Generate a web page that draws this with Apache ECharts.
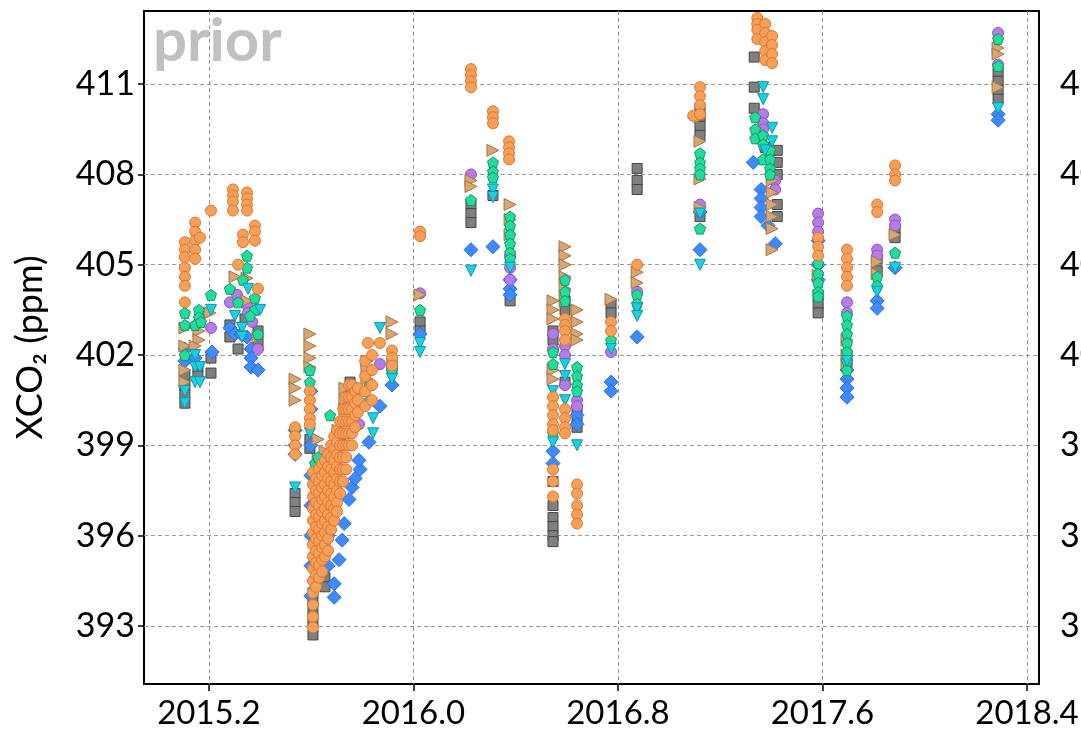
<!DOCTYPE html>
<html>
<head>
<meta charset="utf-8">
<script src="https://cdn.jsdelivr.net/npm/echarts@6/dist/echarts.min.js"></script>
<style>
  html, body { margin: 0; padding: 0; background: #fff; }
  #chart { width: 1081px; height: 735px; }
</style>
</head>
<body>
<div id="chart"></div>
<script>
// columns of points: [decimal year, [XCO2 values]]
const grayCols = [
  [2015.106, [401.3, 401.0, 400.7, 400.4]], [2015.157, [401.6, 401.3]], [2015.208, [401.9, 401.4]],
  [2015.282, [403.0, 402.6]], [2015.314, [402.2]], [2015.341, [403.2]], [2015.392, [402.8, 402.4]],
  [2015.537, [397.4, 397.1, 396.8]], [2015.595, [399.2, 398.9]], [2015.607, [393.9, 393.5, 393.1, 392.7]],
  [2015.654, [394.6, 394.3]], [2015.713, [399.1]], [2015.752, [401.1, 400.8]], [2015.916, [401.75, 401.55]],
  [2016.026, [403.1, 402.8]], [2016.225, [407.0, 406.7, 406.4]], [2016.311, [407.3]], [2016.378, [403.8]],
  [2016.546, [402.8, 402.5, 397.8, 397.0, 396.6, 396.3, 396.0, 395.8]], [2016.593, [403.8, 403.5, 401.1]],
  [2016.640, [400.2, 399.9, 399.6]], [2016.773, [403.7, 403.4]], [2016.875, [408.2, 407.8, 407.5]],
  [2017.121, [410.2, 409.9, 409.6, 409.3, 406.6]], [2017.333, [411.9, 410.9, 410.2]], [2017.376, [408.9]],
  [2017.423, [408.8, 408.4, 408.0, 407.0, 406.6]], [2017.583, [404.0, 403.7, 403.4]], [2017.696, [402.0, 401.7]],
  [2017.814, [405.2, 404.8]], [2017.884, [406.2, 405.9]], [2018.287, [411.4, 411.1, 410.8, 410.5]]
]
const orangeCols = [
  [2015.106, [405.75, 405.5, 405.25, 404.9, 404.6, 404.3, 403.75]], [2015.146, [406.4, 406.1, 405.8, 405.5, 405.2]],
  [2015.165, [405.9]], [2015.208, [406.8]], [2015.294, [407.5, 407.3, 407.1, 406.8]], [2015.349, [407.4, 407.2, 407.0, 406.8]],
  [2015.333, [406.0, 405.75]], [2015.380, [406.3, 406.1, 405.8]], [2015.314, [405.0]], [2015.392, [404.2]],
  [2015.537, [399.6, 399.3, 399.0, 398.7]], [2015.595, [400.8, 400.5, 400.2, 399.9, 399.7]],
  [2015.607, [398.1, 397.7, 397.3, 396.9, 396.5, 396.1, 395.7, 395.3, 394.9, 394.5, 394.1, 393.7, 393.3, 392.95]],
  [2015.619, [397.9, 397.5, 397.1, 396.7, 396.3, 395.9, 395.5, 395.1, 394.7, 394.3]],
  [2015.631, [398.2, 397.8, 397.4, 397.0, 396.6, 396.2, 395.8, 395.4, 395.0, 394.6]],
  [2015.643, [398.4, 398.0, 397.6, 397.2, 396.8, 396.4, 396.0, 395.6, 395.2, 394.8]],
  [2015.654, [398.5, 398.1, 397.7, 397.3, 396.9, 396.5, 396.1, 395.7, 395.3]],
  [2015.666, [398.7, 398.3, 397.9, 397.5, 397.1, 396.7, 396.3, 395.9, 395.5]],
  [2015.678, [399.0, 398.6, 398.2, 397.8, 397.4, 397.0, 396.6, 396.2]],
  [2015.690, [399.3, 398.9, 398.5, 398.1, 397.7, 397.3, 396.9, 396.5]],
  [2015.701, [399.5, 399.1, 398.7, 398.3, 397.9, 397.5, 397.1, 396.8]],
  [2015.713, [399.8, 399.4, 399.0, 398.6, 398.2, 397.8, 397.4]],
  [2015.725, [400.2, 399.8, 399.4, 399.0, 398.6, 398.2, 397.8]],
  [2015.737, [400.6, 400.2, 399.8, 399.4, 399.0, 398.6, 398.2]],
  [2015.748, [401.0, 400.6, 400.2, 399.8, 399.4, 399.0]],
  [2015.760, [401.0, 400.6, 400.2, 399.8, 399.4, 399.0]],
  [2015.772, [400.8, 400.4, 400.0, 399.6]], [2015.783, [400.9, 400.5, 400.1]],
  [2015.811, [401.8, 401.3, 400.8, 400.3]], [2015.822, [402.4]], [2015.838, [402.0, 401.5, 401.0, 400.5]],
  [2015.869, [402.4]], [2015.916, [402.15, 401.9, 401.65]], [2016.026, [406.1, 405.95]],
  [2016.225, [411.5, 411.3, 411.1, 410.9]], [2016.311, [410.1, 409.9, 409.7]], [2016.374, [409.1, 408.9, 408.7, 408.5]],
  [2016.546, [400.6, 400.3, 400.0, 399.7, 399.5, 398.2, 397.8, 397.3]],
  [2016.593, [403.2, 403.0, 402.8, 402.5, 400.2, 399.9, 399.6, 399.4]], [2016.640, [397.7, 397.4, 397.0, 396.7, 396.4]],
  [2016.773, [403.1, 402.8]], [2016.875, [405.0]], [2017.094, [409.95]], [2017.121, [410.9, 410.6, 410.3, 410.0]],
  [2017.345, [413.2, 413.0, 412.8, 412.5]], [2017.376, [413.0, 412.7, 412.4, 412.1, 411.8]], [2017.403, [412.6, 412.3, 412.0, 411.7]],
  [2017.583, [405.9, 405.6, 405.3]], [2017.696, [405.5, 405.2, 404.9, 404.6, 404.3]], [2017.814, [407.0, 406.75]],
  [2017.884, [408.3, 408.0, 407.8]]
]
const tanCols = [
  [2015.106, [402.9, 402.3, 401.5, 401.1]], [2015.161, [402.8, 402.5]], [2015.146, [402.3]], [2015.204, [403.4]],
  [2015.302, [404.6]], [2015.349, [404.55, 403.8]], [2015.392, [402.6]], [2015.537, [401.2, 400.9, 400.5]],
  [2015.595, [402.7, 402.3, 401.9, 401.6]], [2015.627, [399.2, 398.5, 397.8]], [2015.654, [398.8]], [2015.705, [399.5]],
  [2015.732, [400.9, 400.5, 400.2]], [2015.818, [401.8, 401.5, 401.2]], [2015.916, [403.1, 402.7]], [2016.026, [404.0]],
  [2016.225, [407.8, 407.6]], [2016.311, [408.8]], [2016.378, [407.0, 406.5, 406.0]],
  [2016.546, [403.8, 403.5, 403.2, 401.5, 401.2]], [2016.593, [405.6, 405.3, 405.0, 404.6, 404.2, 403.8]],
  [2016.640, [403.5, 403.1, 402.7, 402.5]], [2016.773, [403.85]], [2016.875, [404.75, 404.4]],
  [2017.121, [409.9, 409.1, 407.85, 406.9]], [2017.403, [407.8, 407.4, 407.0, 406.6, 406.2, 405.5]],
  [2017.583, [404.65]], [2017.696, [402.5, 402.0, 401.7]], [2017.814, [405.1, 404.7]], [2017.884, [406.0]],
  [2018.287, [412.2, 412.0, 410.9]]
]
const greenCols = [
  [2015.106, [403.4, 403.0, 402.0]], [2015.161, [403.5, 403.25]], [2015.146, [403.0]], [2015.169, [403.1]], [2015.208, [404.0]],
  [2015.349, [405.3, 404.9]], [2015.282, [404.2]], [2015.333, [404.5]], [2015.314, [403.75]], [2015.380, [403.9, 403.5]],
  [2015.392, [402.7]], [2015.361, [403.3]], [2015.537, [399.5]], [2015.595, [401.5, 401.1]],
  [2015.615, [398.4, 397.9, 397.4, 396.9, 396.4, 395.9, 395.4, 394.9]], [2015.607, [394.2, 393.7]],
  [2015.627, [398.6, 398.1, 397.6, 396.5]], [2015.640, [398.0, 397.2, 396.5]],
  [2015.674, [400.0]], [2015.830, [401.0, 400.5]], [2015.916, [401.5]], [2016.026, [403.5]], [2016.225, [407.15]],
  [2016.311, [408.4, 408.1, 407.9]], [2016.378, [406.6, 406.3, 406.0, 405.7, 405.4, 405.2]],
  [2016.546, [402.1, 401.7, 399.4]], [2016.593, [404.5, 404.1, 403.8]], [2016.640, [401.6, 401.3, 401.0, 400.8]],
  [2016.773, [402.5]], [2016.875, [404.0, 403.7]], [2017.121, [408.7, 408.4, 408.2, 408.0, 406.2]],
  [2017.337, [409.9, 409.5, 409.2]], [2017.368, [409.3, 409.0, 408.5]], [2017.395, [408.8, 408.5, 408.2, 408.0]],
  [2017.583, [405.05, 404.7, 404.4, 404.1, 403.95]], [2017.696, [403.3, 403.0, 402.7, 402.4, 402.1, 401.8, 401.5]],
  [2017.814, [404.6, 404.3]], [2017.884, [405.4]], [2018.287, [412.5, 411.6]]
]
const cyanCols = [
  [2015.106, [400.8, 400.4]], [2015.146, [402.0, 401.6, 401.1]], [2015.165, [401.6, 401.1]], [2015.208, [403.5]],
  [2015.302, [403.3]], [2015.329, [402.9, 402.6]], [2015.353, [404.2]], [2015.400, [403.5]], [2015.537, [397.6]],
  [2015.595, [399.4]], [2015.842, [399.9, 399.4]], [2015.869, [402.9]], [2015.916, [401.2]], [2016.026, [402.4, 402.1]],
  [2016.225, [404.8]], [2016.311, [407.5, 407.25]], [2016.378, [404.9]], [2016.546, [400.8, 399.1]],
  [2016.593, [401.7, 401.3, 400.5]], [2016.640, [399.0]], [2016.773, [402.2]], [2016.875, [403.55, 403.3]],
  [2017.121, [406.7, 405.0]], [2017.368, [410.9, 410.5]], [2017.403, [409.55, 409.1]], [2017.376, [408.8]],
  [2017.696, [401.8]], [2017.814, [404.1]], [2017.884, [404.9]], [2018.287, [410.2]]
]
const purpleCols = [
  [2015.208, [402.9]], [2015.165, [403.3]], [2015.282, [403.75]], [2015.310, [404.0]], [2015.353, [403.6, 403.4]],
  [2015.392, [402.2]], [2015.369, [403.1]], [2015.869, [401.7]], [2015.787, [399.7]], [2015.607, [397.0]],
  [2016.026, [404.05]], [2016.225, [408.0]], [2016.378, [405.3, 404.9, 404.5]], [2016.546, [402.7, 402.2]],
  [2016.593, [402.3, 402.0, 401.0]], [2016.640, [400.5, 400.3]], [2016.773, [402.1]], [2016.875, [404.1]],
  [2017.121, [407.0]], [2017.368, [410.0, 409.7, 409.5]], [2017.415, [407.8, 407.5]],
  [2017.583, [406.7, 406.4, 406.1]], [2017.696, [403.75, 403.4]], [2017.814, [405.5, 405.3]],
  [2017.884, [406.5, 406.3]], [2018.287, [412.7, 411.65]]
]
const blueCols = [
  [2015.106, [402.2, 401.8]], [2015.146, [401.9]], [2015.212, [402.1]], [2015.282, [402.9]], [2015.302, [402.7]],
  [2015.326, [402.7]], [2015.349, [402.6]], [2015.365, [402.2, 401.9, 401.6]], [2015.392, [401.5]],
  [2015.537, [399.5, 399.0, 398.7]], [2015.599, [400.8, 400.2, 399.0, 398.0, 397.0, 396.0, 395.0, 394.0]],
  [2015.666, [396.0, 395.0]],
  [2015.690, [394.4, 393.95]], [2015.709, [395.2]], [2015.721, [395.85]], [2015.729, [396.4]], [2015.748, [397.2]],
  [2015.760, [397.6]], [2015.772, [397.9]], [2015.791, [398.2]], [2015.787, [398.5]], [2015.826, [399.1]],
  [2015.869, [400.3]], [2015.916, [401.0]], [2016.026, [402.7]], [2016.225, [405.5]], [2016.311, [405.6]],
  [2016.378, [404.5, 404.2, 404.0]], [2016.546, [398.8, 398.4]], [2016.640, [400.0, 399.7]], [2016.773, [401.1, 400.8]],
  [2016.875, [402.6]], [2017.121, [406.75, 405.5]], [2017.329, [408.4]], [2017.360, [407.5, 407.2, 406.9, 406.6]],
  [2017.387, [406.3]], [2017.415, [405.7]], [2017.583, [405.8, 405.0, 404.5]], [2017.696, [401.5, 401.2, 400.9, 400.6]],
  [2017.814, [403.8, 403.55]], [2017.884, [404.9]], [2018.287, [410.0, 409.8]]
]
const xTicks = [2015.2, 2016.0, 2016.8, 2017.6, 2018.4]
const yTicks = [393, 396, 399, 402, 405, 408, 411]

function flatten(cols) {
  const out = []
  cols.forEach(c => c[1].forEach(v => out.push([c[0], v])))
  return out
}

const FONT = 'Lato, "Open Sans", sans-serif'
const chart = echarts.init(document.getElementById('chart'))

function pts(name, cols, symbol, size, fill, border) {
  return {
    name: name,
    type: 'scatter',
    data: flatten(cols),
    symbol: symbol,
    symbolSize: size,
    itemStyle: { color: fill, borderColor: border, borderWidth: 1, opacity: 1 },
    emphasis: { disabled: true }
  }
}

chart.setOption({
  animation: false,
  backgroundColor: '#fff',
  grid: { left: 144, right: 42, top: 11, bottom: 51, outerBoundsMode: 'none', containLabel: false,
    show: true, borderColor: '#000', borderWidth: 2 },
  graphic: [{
    type: 'text', left: 153, top: 12, z: 0,
    style: { text: 'prior', fill: '#c0c0c0', font: 'bold 60px ' + FONT }
  }],
  xAxis: {
    type: 'value', min: 2014.946, max: 2018.447,
    axisLine: { show: false },
    axisTick: { show: true, length: 7, customValues: xTicks, lineStyle: { color: '#000', width: 1.5 } },
    axisLabel: { customValues: xTicks, margin: 13, color: '#000', fontSize: 33, fontFamily: FONT,
      formatter: v => v.toFixed(1) },
    splitLine: { show: true, lineStyle: { color: '#999', type: [4, 3], width: 1 } }
  },
  yAxis: [{
    type: 'value', min: 391.07, max: 413.43,
    name: 'XCO₂ (ppm)', nameLocation: 'middle', nameGap: 96,
    nameTextStyle: { color: '#000', fontSize: 36, fontFamily: FONT },
    axisLine: { show: false },
    axisTick: { show: true, length: 6, customValues: yTicks, lineStyle: { color: '#000', width: 1.5 } },
    axisLabel: { customValues: yTicks, margin: 9, color: '#000', fontSize: 34, fontFamily: FONT },
    splitLine: { show: true, lineStyle: { color: '#999', type: [4, 3], width: 1 } }
  }, {
    type: 'value', min: 391.07, max: 413.43, position: 'right',
    axisLine: { show: false },
    axisTick: { show: false, customValues: yTicks },
    axisLabel: { customValues: yTicks, margin: 21, color: '#000', fontSize: 34, fontFamily: FONT },
    splitLine: { show: false }
  }],
  series: [
    pts('gray', grayCols, 'rect', 10, '#808080', '#444'),
    pts('blue', blueCols, 'diamond', 14, '#3d8bff', '#2a6ae8'),
    pts('purple', purpleCols, 'circle', 11, '#b57ce8', '#8f52c9'),
    pts('tan', tanCols, 'path://M0,0 L10,5 L0,10 Z', 12, '#d6a676', '#a9733f'),
    pts('green', greenCols, 'path://M0,-1 L0.951,-0.309 L0.588,0.809 L-0.588,0.809 L-0.951,-0.309 Z', 11, '#22dc9b', '#12976a'),
    pts('cyan', cyanCols, 'path://M0,0 L10,0 L5,10 Z', 11, '#1ccfe0', '#1097a6'),
    pts('orange', orangeCols, 'circle', 11, '#f5a058', '#e27532')
  ]
})
</script>
</body>
</html>
